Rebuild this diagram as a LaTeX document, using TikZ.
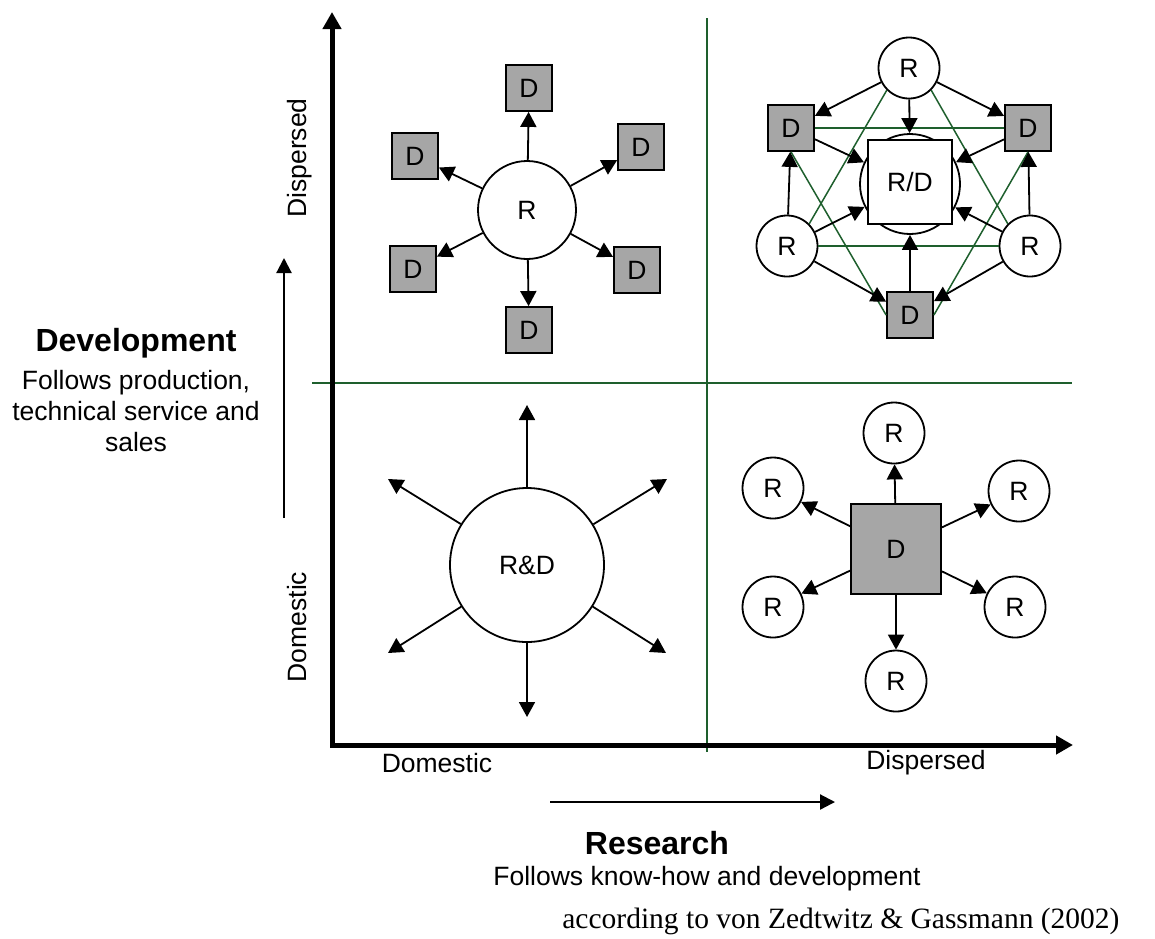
\documentclass[tikz,border=0pt]{standalone}
\usepackage{fontspec}
\setmainfont{Liberation Sans}
\newfontfamily\citefont{Liberation Serif}
\usetikzlibrary{arrows.meta}
\definecolor{quadgreen}{RGB}{30,95,45}
\definecolor{dgray}{RGB}{166,166,166}

\begin{document}
\begin{tikzpicture}[
  x=1pt, y=-1pt,
  lbl/.style={font=\fontsize{26.5}{31}\selectfont},
  head/.style={font=\fontsize{32}{36}\selectfont\bfseries},
  rnode/.style={lbl, circle, draw, line width=1.8pt, minimum size=61pt, inner sep=0pt, fill=white},
  dnode/.style={lbl, rectangle, draw, line width=1.8pt, minimum size=46pt, inner sep=0pt, fill=dgray},
  link/.style={line width=1.8pt, -{Triangle[length=15pt, width=16pt]}},
  guide/.style={line width=2.2pt, -{Triangle[length=15pt, width=15pt]}},
  cross/.style={quadgreen, line width=1.5pt}
]
  \useasboundingbox (0,0) rectangle (1155,938);

  % Quadranten und Achsen
  \draw[cross] (707,18) -- (707,752);
  \draw[cross] (312,383) -- (1072,383);
  \draw[line width=5pt, {Triangle[length=17pt, width=18pt]}-{Triangle[length=17pt, width=18pt]}] (332,12) |- (1073,745);

  % Achsenbeschriftung
  \node[lbl, rotate=90] (ydisp) at (300,158) {Dispersed};
  \node[lbl, rotate=90] (ydom) at (297,627) {Domestic};
  \node[lbl] (xdom) at (437,763) {Domestic};
  \node[lbl] (xdisp) at (926,763) {Dispersed};

  \node[head] (devt) at (136,343) {Development};
  \node[lbl, align=center] (devsub) at (136,411) {Follows production,\\technical service and\\sales};
  \coordinate (ya) at (284,518);
  \coordinate (yb) at (284,258);
  \draw[guide] (ya) -- (yb);

  \node[head] (res) at (657,843) {Research};
  \node[lbl] (ressub) at (707,879) {Follows know-how and development};
  \coordinate (xa) at (550,802);
  \coordinate (xb) at (835,802);
  \draw[guide] (xa) -- (xb);

  \node[font=\citefont\fontsize{29.5}{33}\selectfont, anchor=east] (src) at (1123,921) {according to von Zedtwitz \& Gassmann (2002)};

  % links oben: R -> D
  \node[rnode, minimum size=98pt] (rc) at (527,210) {R};
  \node[dnode] (d1) at (529,88) {D};
  \node[dnode] (d2) at (641,147) {D};
  \node[dnode] (d3) at (637,270) {D};
  \node[dnode] (d4) at (529,330) {D};
  \node[dnode] (d5) at (413,269) {D};
  \node[dnode] (d6) at (415,156) {D};
  \foreach \i in {1,...,6}
    \draw[link] (rc) -- (d\i);

  % links unten: R&D
  \node[rnode, minimum size=154pt] (rnd) at (527,565) {R\&D};
  \coordinate (e1) at (527,405);
  \coordinate (e2) at (667,479);
  \coordinate (e3) at (666,653);
  \coordinate (e4) at (527,717);
  \coordinate (e5) at (388,653);
  \coordinate (e6) at (388,479);
  \foreach \i in {1,...,6}
    \draw[link] (rnd) -- (e\i);

  % rechts unten: D -> R
  \node[dnode, minimum size=90pt] (dc) at (896,549) {D};
  \node[rnode] (r1) at (894,433) {R};
  \node[rnode] (r2) at (1019,491) {R};
  \node[rnode] (r3) at (1015,607) {R};
  \node[rnode] (r4) at (896,681) {R};
  \node[rnode] (r5) at (773,607) {R};
  \node[rnode] (r6) at (773,488) {R};
  \foreach \i in {1,...,6}
    \draw[link] (dc) -- (r\i);

  % rechts oben: Netzwerk
  \node[rnode] (rt) at (909,68) {R};
  \node[rnode] (rl) at (787,246) {R};
  \node[rnode] (rr) at (1030,246) {R};
  \node[dnode] (dl) at (791,128) {D};
  \node[dnode] (dr) at (1028,128) {D};
  \node[dnode] (db) at (910,315) {D};
  \node[circle, draw, line width=1.8pt, minimum size=100pt] (hub) at (910,184) {};
  \node[lbl, rectangle, draw, fill=white, line width=1.8pt, minimum size=84pt, inner sep=0pt] (rd) at (910,182) {R/D};

  \draw[cross] (dl) -- (dr);
  \draw[cross] (rl) -- (rr);
  \draw[cross] (rt.225) -- (rl.45);
  \draw[cross] (rt.-45) -- (rr.135);
  \draw[cross] (dl.south) -- (db.west);
  \draw[cross] (dr.south) -- (db.east);

  \draw[link] (rt) -- (dl);
  \draw[link] (rt) -- (dr);
  \draw[link] (rt) -- (hub);
  \draw[link] (dl) -- (hub);
  \draw[link] (dr) -- (hub);
  \draw[link] (rl) -- (dl);
  \draw[link] (rr) -- (dr);
  \draw[link] (rl) -- (hub);
  \draw[link] (rr) -- (hub);
  \draw[link] (db) -- (hub);
  \draw[link] (rl) -- (db);
  \draw[link] (rr) -- (db);
\end{tikzpicture}
\end{document}
